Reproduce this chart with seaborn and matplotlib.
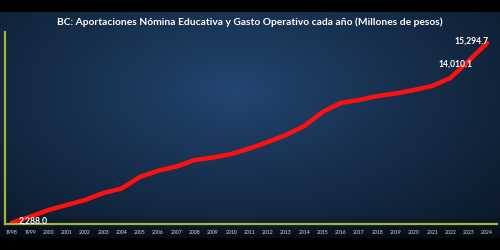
import numpy as np
import pandas as pd
import matplotlib
matplotlib.use("Agg")
import matplotlib.pyplot as plt
import seaborn as sns

years = list(range(1998, 2025))
values = [2288.0, 2722, 3207, 3569, 3931, 4438, 4764, 5597, 6053, 6357,
          6828, 7009, 7262, 7660, 8131, 8638, 9289, 10302, 10954, 11171,
          11461, 11642, 11895, 12185, 12767, 14010.1, 15294.7]
title = "BC: Aportaciones Nómina Educativa y Gasto Operativo cada año (Millones de pesos)"
labels = {1998: "2,288.0", 2023: "14,010.1", 2024: "15,294.7"}

df = pd.DataFrame({"year": years, "value": values})

sns.set_theme(style="white")
plt.rcParams['font.family'] = ['Lato', 'DejaVu Sans']

fig = plt.figure(figsize=(5, 2.5), dpi=100, facecolor="black")

# background gradient panel
bg = fig.add_axes([0, 12/250, 1, 1 - 24/250])
bg.set_axis_off()
yy, xx = np.mgrid[0:1:200j, 0:1:400j]
d = np.sqrt(((xx - 0.47) / 0.7) ** 2 + ((yy - 0.35) / 0.85) ** 2)
d = np.clip(d, 0, 1) ** 0.9
c_center = np.array([0x23, 0x46, 0x72]) / 255
c_edge = np.array([0x0c, 0x1a, 0x2b]) / 255
img = c_center[None, None, :] * (1 - d[..., None]) + c_edge[None, None, :] * d[..., None]
fade = np.clip((yy - 0.9) / 0.1, 0, 1)[..., None]
img = img * (1 - 0.6 * fade)
bg.imshow(img, aspect="auto", extent=[0, 1, 1, 0])

ax = fig.add_axes([5/500, 1 - 224/250, 492/500, 192/250])
ax.patch.set_alpha(0)
sns.lineplot(data=df, x="year", y="value", ax=ax, color="#ff1010",
             linewidth=3.2, solid_capstyle="round")
ax.set_xlim(1997.62, 2024.55)
ax.set_ylim(2194, 16095)
ax.set_xticks(years)
ax.set_xticklabels([str(y) for y in years], fontsize=3.7, color="#d8dde3")
ax.set_yticks([])
ax.tick_params(axis="x", length=0, pad=4)
ax.set_xlabel("")
ax.set_ylabel("")
for s in ["top", "right"]:
    ax.spines[s].set_visible(False)
for s in ["left", "bottom"]:
    ax.spines[s].set_color("#a3b534")
    ax.spines[s].set_linewidth(1.6)

offsets = {1998: (21, 2, "center", "center"),
           2023: (-13, -3, "center", "center"),
           2024: (-15, 2, "center", "center")}
for yr, txt in labels.items():
    v = values[years.index(yr)]
    dx, dy, ha, va = offsets[yr]
    ax.annotate(txt, (yr, v), xytext=(dx, dy), textcoords="offset pixels",
                ha=ha, va=va, fontsize=6.2, fontweight="bold", color="white")

fig.text(0.5, 1 - 22/250, title, ha="center", va="center", fontsize=7.4,
         fontweight="bold", color="white")

fig.savefig("out.png", dpi=100, facecolor="black")
